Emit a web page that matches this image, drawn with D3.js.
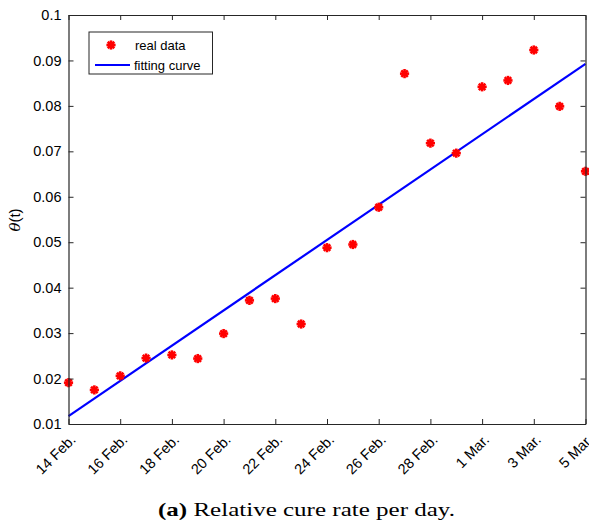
<!DOCTYPE html>
<html>
<head>
<meta charset="utf-8">
<script src="https://cdn.jsdelivr.net/npm/d3@7/dist/d3.min.js"></script>
<style>
  html, body { margin: 0; padding: 0; background: #fff; }
  svg { display: block; }
</style>
</head>
<body>
<svg id="chart" width="589" height="530"></svg>
<script>
// Daily relative cure rate, 14 Feb – 5 Mar (day index 0..20)
const days = d3.range(0, 21);
const cureRate = [
  0.0191, 0.0175, 0.0206, 0.0245, 0.0252, 0.0244, 0.0299, 0.0372, 0.0376, 0.0320,
  0.0488, 0.0495, 0.0577, 0.0871, 0.0718, 0.0696, 0.0842, 0.0856, 0.0923, 0.0799,
  0.0656
];
// Linear fit theta(t) = a + b t
const fitCoef = [0.01175, 0.003875];
const xTickDays = [0, 2, 4, 6, 8, 10, 12, 14, 16, 18, 20];
const xTickLabels = ["14 Feb.", "16 Feb.", "18 Feb.", "20 Feb.", "22 Feb.", "24 Feb.",
                     "26 Feb.", "28 Feb.", "1 Mar.", "3 Mar.", "5 Mar."];
const yTicks = [0.01, 0.02, 0.03, 0.04, 0.05, 0.06, 0.07, 0.08, 0.09, 0.1];

const svg = d3.select("#chart");
const m = { left: 68.5, right: 585.5, top: 15, bottom: 424 };
const font = "'Liberation Sans', Arial, Helvetica, sans-serif";

const x = d3.scaleLinear().domain([0, 20]).range([m.left, m.right]);
const y = d3.scaleLinear().domain([0.01, 0.1]).range([m.bottom, m.top]);

// fitted line
const fitLine = d3.line().x(d => x(d)).y(d => y(fitCoef[0] + fitCoef[1] * d));
svg.append("path")
  .attr("d", fitLine([0, 20]))
  .attr("fill", "none").attr("stroke", "#0000ff").attr("stroke-width", 2.2);

// asterisk marker
function star(g, cx, cy, r) {
  const s = g.append("g").attr("transform", `translate(${cx},${cy})`);
  [0, 45, 90, 135].forEach(a => {
    const rad = a * Math.PI / 180;
    s.append("line")
      .attr("x1", -r * Math.cos(rad)).attr("y1", -r * Math.sin(rad))
      .attr("x2", r * Math.cos(rad)).attr("y2", r * Math.sin(rad))
      .attr("stroke", "#ff0000").attr("stroke-width", 2.6).attr("stroke-linecap", "butt");
  });
  s.append("circle").attr("r", r * 0.55).attr("fill", "#ff0000");
}
const pts = svg.append("g");
days.forEach((d, i) => star(pts, x(d), y(cureRate[i]), 4.6));

// axes
const axisColor = "#262626";
const axBottom = svg.append("g").attr("transform", `translate(0,${m.bottom})`)
  .call(d3.axisBottom(x).tickValues(xTickDays).tickSizeInner(-5).tickSizeOuter(0)
    .tickFormat((d, i) => xTickLabels[i]));
const axTop = svg.append("g").attr("transform", `translate(0,${m.top})`)
  .call(d3.axisTop(x).tickValues(xTickDays).tickSizeInner(-5).tickSizeOuter(0).tickFormat(""));
const axLeft = svg.append("g").attr("transform", `translate(${m.left},0)`)
  .call(d3.axisLeft(y).tickValues(yTicks).tickSizeInner(-5).tickSizeOuter(0)
    .tickFormat(d => String(+d.toFixed(2))));
const axRight = svg.append("g").attr("transform", `translate(${m.right},0)`)
  .call(d3.axisRight(y).tickValues(yTicks).tickSizeInner(-5).tickSizeOuter(0).tickFormat(""));

[axBottom, axTop, axLeft, axRight].forEach(g => {
  g.selectAll("path.domain").attr("stroke", axisColor).attr("stroke-width", 1.2);
  g.selectAll(".tick line").attr("stroke", axisColor).attr("stroke-width", 1);
});

axLeft.selectAll(".tick text")
  .attr("x", -7).attr("font-family", font).attr("font-size", 14.5).attr("fill", "#000");

axBottom.selectAll(".tick text")
  .attr("font-family", font).attr("font-size", 14.5).attr("fill", "#000")
  .attr("text-anchor", "end")
  .attr("transform", "translate(4,13) rotate(-45)")
  .attr("x", 0).attr("y", 0).attr("dy", "0.35em");

// y label
const yl = svg.append("text")
  .attr("transform", `translate(20,220) rotate(-90)`)
  .attr("text-anchor", "middle")
  .attr("font-family", font).attr("font-size", 15).attr("fill", "#000");
yl.append("tspan").attr("font-family", "'DejaVu Serif', serif").attr("font-style", "italic").text("θ");
yl.append("tspan").text("(t)");

// legend
const lg = svg.append("g");
lg.append("rect").attr("x", 89).attr("y", 32).attr("width", 123.5).attr("height", 42)
  .attr("fill", "#fff").attr("stroke", axisColor).attr("stroke-width", 1);
star(lg, 111, 45, 4.6);
lg.append("line").attr("x1", 95).attr("x2", 130).attr("y1", 65).attr("y2", 65)
  .attr("stroke", "#0000ff").attr("stroke-width", 2.2);
lg.append("text").attr("x", 135).attr("y", 50).attr("font-family", font)
  .attr("font-size", 13).attr("fill", "#000").text("real data");
lg.append("text").attr("x", 134).attr("y", 70).attr("font-family", font)
  .attr("font-size", 13).attr("fill", "#000").text("fitting curve");

// caption
const cap = svg.append("text").attr("x", 158).attr("y", 516)
  .attr("text-anchor", "start")
  .attr("font-family", "'Liberation Serif', 'DejaVu Serif', serif")
  .attr("font-size", 19.5).attr("fill", "#000")
  .attr("textLength", 297).attr("lengthAdjust", "spacingAndGlyphs");
cap.append("tspan").attr("font-weight", "bold").text("(a)");
cap.append("tspan").text(" Relative cure rate per day.");
</script>
</body>
</html>
